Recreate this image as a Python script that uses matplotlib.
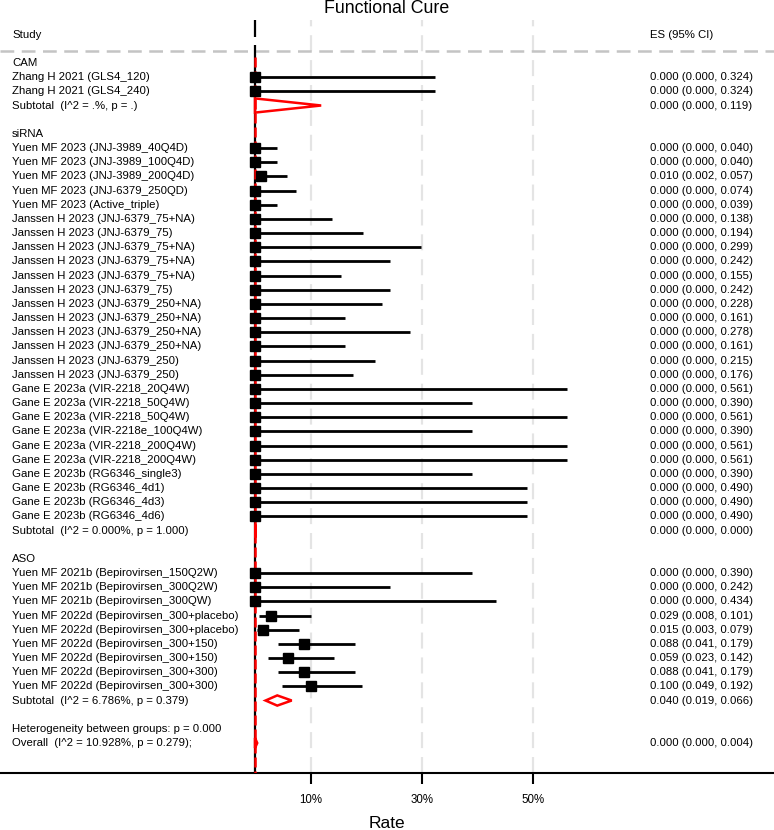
import matplotlib
matplotlib.use("Agg")
import matplotlib.pyplot as plt
from matplotlib.patches import Polygon

# ---------------- data ----------------
cam_labels = ["Zhang H 2021 (GLS4_120)", "Zhang H 2021 (GLS4_240)"]
cam_es = [0.000, 0.000]
cam_lo = [0.000, 0.000]
cam_hi = [0.324, 0.324]
cam_sub = (0.000, 0.000, 0.119)
cam_sub_label = "Subtotal  (I^2 = .%, p = .)"

sirna_labels = [
    "Yuen MF 2023 (JNJ-3989_40Q4D)", "Yuen MF 2023 (JNJ-3989_100Q4D)",
    "Yuen MF 2023 (JNJ-3989_200Q4D)", "Yuen MF 2023 (JNJ-6379_250QD)",
    "Yuen MF 2023 (Active_triple)", "Janssen H 2023 (JNJ-6379_75+NA)",
    "Janssen H 2023 (JNJ-6379_75)", "Janssen H 2023 (JNJ-6379_75+NA)",
    "Janssen H 2023 (JNJ-6379_75+NA)", "Janssen H 2023 (JNJ-6379_75+NA)",
    "Janssen H 2023 (JNJ-6379_75)", "Janssen H 2023 (JNJ-6379_250+NA)",
    "Janssen H 2023 (JNJ-6379_250+NA)", "Janssen H 2023 (JNJ-6379_250+NA)",
    "Janssen H 2023 (JNJ-6379_250+NA)", "Janssen H 2023 (JNJ-6379_250)",
    "Janssen H 2023 (JNJ-6379_250)", "Gane E 2023a (VIR-2218_20Q4W)",
    "Gane E 2023a (VIR-2218_50Q4W)", "Gane E 2023a (VIR-2218_50Q4W)",
    "Gane E 2023a (VIR-2218e_100Q4W)", "Gane E 2023a (VIR-2218_200Q4W)",
    "Gane E 2023a (VIR-2218_200Q4W)", "Gane E 2023b (RG6346_single3)",
    "Gane E 2023b (RG6346_4d1)", "Gane E 2023b (RG6346_4d3)",
    "Gane E 2023b (RG6346_4d6)",
]
sirna_es = [0.000, 0.000, 0.010, 0.000, 0.000, 0.000, 0.000, 0.000, 0.000,
            0.000, 0.000, 0.000, 0.000, 0.000, 0.000, 0.000, 0.000, 0.000,
            0.000, 0.000, 0.000, 0.000, 0.000, 0.000, 0.000, 0.000, 0.000]
sirna_lo = [0.000, 0.000, 0.002, 0.000, 0.000, 0.000, 0.000, 0.000, 0.000,
            0.000, 0.000, 0.000, 0.000, 0.000, 0.000, 0.000, 0.000, 0.000,
            0.000, 0.000, 0.000, 0.000, 0.000, 0.000, 0.000, 0.000, 0.000]
sirna_hi = [0.040, 0.040, 0.057, 0.074, 0.039, 0.138, 0.194, 0.299, 0.242,
            0.155, 0.242, 0.228, 0.161, 0.278, 0.161, 0.215, 0.176, 0.561,
            0.390, 0.561, 0.390, 0.561, 0.561, 0.390, 0.490, 0.490, 0.490]
sirna_sub = (0.000, 0.000, 0.000)
sirna_sub_label = "Subtotal  (I^2 = 0.000%, p = 1.000)"

aso_labels = [
    "Yuen MF 2021b (Bepirovirsen_150Q2W)", "Yuen MF 2021b (Bepirovirsen_300Q2W)",
    "Yuen MF 2021b (Bepirovirsen_300QW)", "Yuen MF 2022d (Bepirovirsen_300+placebo)",
    "Yuen MF 2022d (Bepirovirsen_300+placebo)", "Yuen MF 2022d (Bepirovirsen_300+150)",
    "Yuen MF 2022d (Bepirovirsen_300+150)", "Yuen MF 2022d (Bepirovirsen_300+300)",
    "Yuen MF 2022d (Bepirovirsen_300+300)",
]
aso_es = [0.000, 0.000, 0.000, 0.029, 0.015, 0.088, 0.059, 0.088, 0.100]
aso_lo = [0.000, 0.000, 0.000, 0.008, 0.003, 0.041, 0.023, 0.041, 0.049]
aso_hi = [0.390, 0.242, 0.434, 0.101, 0.079, 0.179, 0.142, 0.179, 0.192]
aso_sub = (0.040, 0.019, 0.066)
aso_sub_label = "Subtotal  (I^2 = 6.786%, p = 0.379)"

het_label = "Heterogeneity between groups: p = 0.000"
overall_label = "Overall  (I^2 = 10.928%, p = 0.279);"
overall = (0.000, 0.000, 0.004)

groups = [("CAM", cam_labels, cam_es, cam_lo, cam_hi, cam_sub_label, cam_sub, 0.5),
          ("siRNA", sirna_labels, sirna_es, sirna_lo, sirna_hi, sirna_sub_label, sirna_sub, 0.45),
          ("ASO", aso_labels, aso_es, aso_lo, aso_hi, aso_sub_label, aso_sub, 0.36)]

tick_vals = [0.10, 0.30, 0.50]
tick_labels = ["10%", "30%", "50%"]

# ---------------- figure ----------------
plt.rcParams['font.family'] = ['Liberation Sans', 'DejaVu Sans']
W, H = 774, 830
fig = plt.figure(figsize=(W / 100, H / 100), dpi=100)
top_px, bot_px = 20, 773
ax = fig.add_axes([0, 1 - bot_px / H, 1, (bot_px - top_px) / H])

x0_px, scale = 255, 556.0   # pixel of 0 and pixels per unit proportion
ax.set_xlim((0 - x0_px) / scale, (W - x0_px) / scale)
row0_px, row_h = 63, 14.167
def py(p):
    return (p - row0_px) / row_h
ax.set_ylim(py(bot_px), py(top_px))

lab_x = 12 / W
es_x = 650 / W
fs = 8.2
tr = ax.get_yaxis_transform()  # x in axes, y in data

def es_text(e, l, h):
    return f"{e:.3f} ({l:.3f}, {h:.3f})"

# header
ax.text(lab_x, -2, "Study", transform=tr, fontsize=fs, va='center', ha='left')
ax.text(es_x, -2, "ES (95% CI)", transform=tr, fontsize=fs, va='center', ha='left')
ax.axhline(py(51), color='#c4c4c4', lw=1.8, dashes=(5.5, 3.0), zorder=1)

# gridlines
for t in tick_vals:
    ax.axvline(t, color='#e4e4e4', lw=1.6, dashes=(7.2, 4.0), zorder=0)

# null line & overall line
ax.plot([0, 0], [py(top_px), py(37)], color='black', lw=1.6, zorder=2, solid_capstyle='butt')
ax.plot([0, 0], [py(45), py(bot_px)], color='black', lw=1.6, zorder=2, solid_capstyle='butt')
ax.plot([overall[0], overall[0]], [py(57), py(bot_px)], color='red', lw=1.8,
        dashes=(4.0, 1.6), zorder=3)

def diamond(es, lo, hi, y, h):
    poly = Polygon([(lo, y), (es, y - h), (hi, y), (es, y + h)], closed=True,
                   fill=False, edgecolor='red', lw=1.8, zorder=6, joinstyle='miter')
    ax.add_patch(poly)

row = 0
for name, labs, es, lo, hi, sub_lab, sub, dh in groups:
    ax.text(lab_x, row, name, transform=tr, fontsize=fs, va='center', ha='left')
    row += 1
    for i in range(len(labs)):
        ax.text(lab_x, row, labs[i], transform=tr, fontsize=fs, va='center', ha='left')
        ax.text(es_x, row, es_text(es[i], lo[i], hi[i]), transform=tr, fontsize=fs,
                va='center', ha='left')
        ax.plot([lo[i], hi[i]], [row, row], color='black', lw=2.0, zorder=4,
                solid_capstyle='butt')
        ax.plot([es[i]], [row], marker='s', color='black', markersize=6.6, zorder=5,
                linestyle='none')
        row += 1
    ax.text(lab_x, row, sub_lab, transform=tr, fontsize=fs, va='center', ha='left')
    ax.text(es_x, row, es_text(*sub), transform=tr, fontsize=fs, va='center', ha='left')
    diamond(sub[0], sub[1], sub[2], row, dh)
    row += 2

ax.text(lab_x, row, het_label, transform=tr, fontsize=fs, va='center', ha='left')
row += 1
ax.text(lab_x, row, overall_label, transform=tr, fontsize=fs, va='center', ha='left')
ax.text(es_x, row, es_text(*overall), transform=tr, fontsize=fs, va='center', ha='left')
diamond(overall[0], overall[1], overall[2], row, 0.36)

# axes styling
for s in ['top', 'left', 'right']:
    ax.spines[s].set_visible(False)
ax.spines['bottom'].set_linewidth(1.5)
ax.set_yticks([])
ax.set_xticks(tick_vals)
ax.set_xticklabels(tick_labels, fontsize=8.3)
ax.tick_params(axis='x', direction='out', length=8, width=1.5, pad=7)
ax.set_xlabel("Rate", fontsize=12.5, labelpad=7)

fig.text(0.5, 1 - 13 / H, "Functional Cure", ha='center', va='baseline', fontsize=12.8)

fig.savefig("out.png", dpi=100)
